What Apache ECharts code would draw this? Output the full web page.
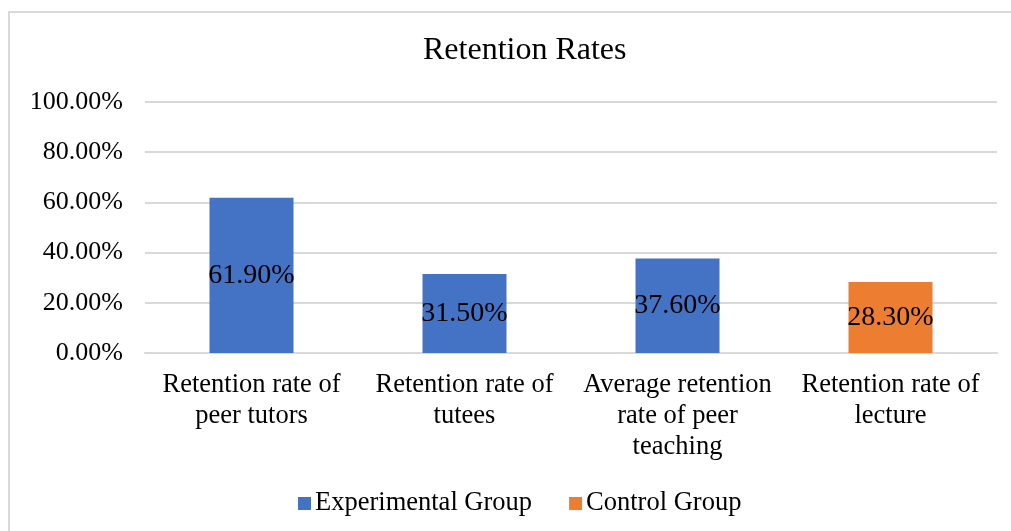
<!DOCTYPE html>
<html>
<head>
<meta charset="utf-8">
<script src="https://cdn.jsdelivr.net/npm/echarts@6/dist/echarts.min.js"></script>
<style>html,body{margin:0;padding:0;background:#fff}#c{width:1011px;height:531px}</style>
</head>
<body>
<div id="c"></div>
<script>
const categories = ["Retention rate of\npeer tutors", "Retention rate of\ntutees", "Average retention\nrate of peer\nteaching", "Retention rate of\nlecture"];
const experimental = [61.9, 31.5, 37.6, null];
const control = [null, null, null, 28.3];
const seriesNames = ["Experimental Group", "Control Group"];
const yTicks = [0, 20, 40, 60, 80, 100];

const font = "'Liberation Serif', 'Times New Roman', serif";
const chart = echarts.init(document.getElementById('c'));
const labelCfg = {
  show: true, position: 'inside', color: '#000', fontFamily: font, fontSize: 28,
  formatter: p => p.value.toFixed(2) + '%'
};
chart.setOption({
  animation: false,
  graphic: [{
    type: 'rect', left: 8, top: 11, z: -1,
    shape: { x: 0, y: 0, width: 1100, height: 600 },
    style: { fill: '#fff', stroke: '#d9d9d9', lineWidth: 2 }
  }],
  title: {
    text: 'Retention Rates', left: 418, top: 30,
    textStyle: { fontFamily: font, fontSize: 32, fontWeight: 'normal', color: '#000' }
  },
  legend: {
    left: 293, top: 485, itemWidth: 13, itemHeight: 13, itemGap: 37,
    icon: 'rect',
    textStyle: { fontFamily: font, fontSize: 26.5, color: '#000', padding: [0, 0, 0, -1] },
    data: seriesNames
  },
  grid: { left: 145, right: 14, top: 102, bottom: 178 },
  xAxis: {
    type: 'category', data: categories,
    axisLine: { lineStyle: { color: '#d9d9d9', width: 2 } },
    axisTick: { show: false },
    axisLabel: { fontFamily: font, fontSize: 26.5, color: '#000', lineHeight: 31, margin: 17, interval: 0 }
  },
  yAxis: {
    type: 'value', min: yTicks[0], max: yTicks[yTicks.length - 1], interval: 20,
    axisLine: { show: false }, axisTick: { show: false },
    splitLine: { lineStyle: { color: '#d9d9d9', width: 2 } },
    axisLabel: { fontFamily: font, fontSize: 26, color: '#000', margin: 22,
      formatter: v => v.toFixed(2) + '%' }
  },
  series: [
    { name: seriesNames[0], type: 'bar', stack: 'a', barWidth: 84, data: experimental,
      itemStyle: { color: '#4472C4' }, label: labelCfg },
    { name: seriesNames[1], type: 'bar', stack: 'a', barWidth: 84, data: control,
      itemStyle: { color: '#ED7D31' }, label: labelCfg }
  ]
});
</script>
</body>
</html>
